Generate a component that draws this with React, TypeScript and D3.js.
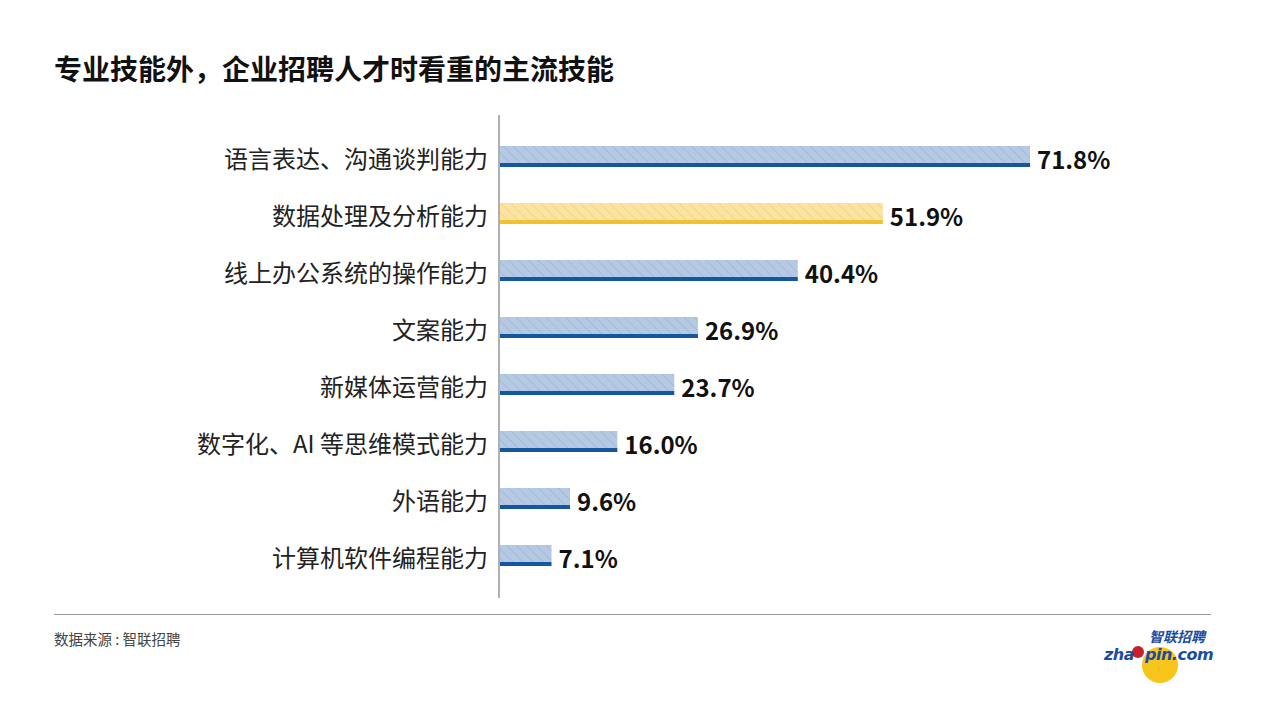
import React from "react";
import * as d3 from "d3";

const categories = [
  "语言表达、沟通谈判能力",
  "数据处理及分析能力",
  "线上办公系统的操作能力",
  "文案能力",
  "新媒体运营能力",
  "数字化、AI 等思维模式能力",
  "外语能力",
  "计算机软件编程能力",
];
const values = [71.8, 51.9, 40.4, 26.9, 23.7, 16.0, 9.6, 7.1];
const highlightIndex = 1;

const W = 1265;
const H = 711;
const FONT = "'Noto Sans CJK SC', 'Noto Sans', sans-serif";

export default function App() {
  const x0 = 499;
  const x = d3.scaleLinear().domain([0, 71.8]).range([x0, 1030]);
  const y = d3
    .scaleBand<string>()
    .domain(categories)
    .range([128.5, 584.5])
    .paddingInner(0.6)
    .paddingOuter(0.3);
  const barH = 22;

  return (
    <svg width={W} height={H} style={{ display: "block", position: "absolute", left: 0, top: 0 }} fontFamily={FONT}>
      <defs>
        <pattern id="hatchBlue" patternUnits="userSpaceOnUse" width="7" height="7" patternTransform="rotate(-45)">
          <rect width="7" height="7" fill="#b5c9e3" />
          <line x1="0" y1="0" x2="0" y2="7" stroke="#a3bbdb" strokeWidth="2" />
        </pattern>
        <pattern id="hatchYellow" patternUnits="userSpaceOnUse" width="7" height="7" patternTransform="rotate(-45)">
          <rect width="7" height="7" fill="#fbe4a3" />
          <line x1="0" y1="0" x2="0" y2="7" stroke="#f5d57e" strokeWidth="2" />
        </pattern>
      </defs>
      <rect width={W} height={H} fill="#ffffff" />
      <text x={54} y={68} dominantBaseline="central" fontSize={28} fontWeight={700} fill="#111">
        专业技能外，企业招聘人才时看重的主流技能
      </text>

      {categories.map((c, i) => {
        const cy = (y(c) as number) + y.bandwidth() / 2;
        const top = cy - barH / 2;
        const xe = x(values[i]);
        const hi = i === highlightIndex;
        return (
          <g key={c}>
            <rect x={x0} y={top} width={xe - x0} height={barH - 5} fill={hi ? "url(#hatchYellow)" : "url(#hatchBlue)"} />
            <rect x={x0} y={top + barH - 5} width={xe - x0} height={4} fill={hi ? "#f2c12e" : "#1556a0"} />
            <text x={488} y={cy} textAnchor="end" dominantBaseline="central" fontSize={24} fill="#222">
              {c}
            </text>
            <text x={xe + 7} y={cy + 1} dominantBaseline="central" fontSize={24} fontWeight={700} fill="#111">
              {values[i].toFixed(1)}%
            </text>
          </g>
        );
      })}

      <line x1={x0} x2={x0} y1={115} y2={598} stroke="#b0b0b0" strokeWidth={2} />

      <line x1={54} x2={1211} y1={614.5} y2={614.5} stroke="#9a9a9a" strokeWidth={1.2} />
      <text x={54} y={638} dominantBaseline="central" fontSize={14.5} fill="#444">
        数据来源 : 智联招聘
      </text>

      <g>
        <circle cx={1160} cy={665} r={18} fill="#f7c51c" />
        <circle cx={1138} cy={652} r={6} fill="#c8202a" />
        <text x={1149} y={642} fontSize={14} fontWeight={700} fontStyle="italic" fill="#1a4d9e">
          智联招聘
        </text>
        <text x={1104} y={660} fontSize={16} fontWeight={700} fontStyle="italic" fill="#1a4d9e" fontFamily="'DejaVu Sans', sans-serif" letterSpacing={-0.5}>
          zha
        </text>
        <text x={1145} y={660} fontSize={16} fontWeight={700} fontStyle="italic" fill="#1a4d9e" fontFamily="'DejaVu Sans', sans-serif" letterSpacing={-0.5}>
          pin.com
        </text>
      </g>
    </svg>
  );
}
